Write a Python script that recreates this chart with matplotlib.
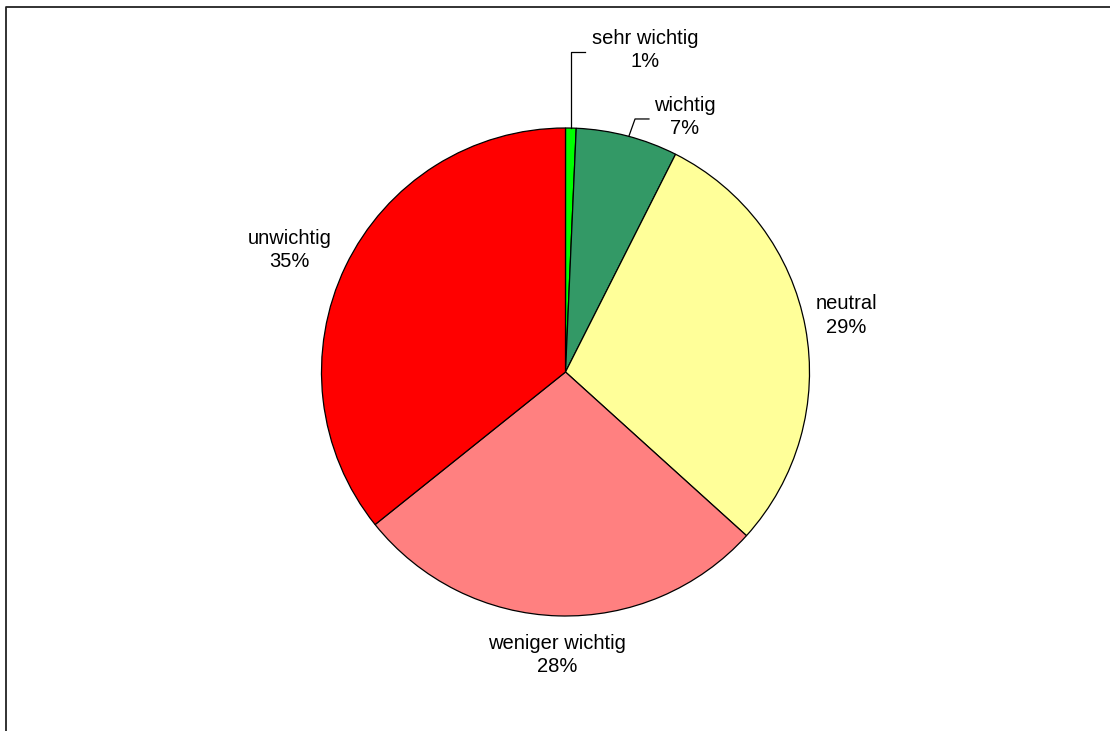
import matplotlib
matplotlib.use("Agg")
import matplotlib.pyplot as plt
from matplotlib.lines import Line2D

plt.rcParams['font.family'] = ['Liberation Sans', 'DejaVu Sans']

# data
categories = ["sehr wichtig", "wichtig", "neutral", "weniger wichtig", "unwichtig"]
values = [0.7, 6.75, 29.25, 27.55, 35.75]
pct_labels = ["1%", "7%", "29%", "28%", "35%"]
colors = ["#00FF00", "#339966", "#FFFF99", "#FF8080", "#FF0000"]

# label centres in pie units (radius = 1)
label_pos = [(0.326, 1.320), (0.488, 1.045), (1.152, 0.230), (-0.035, -1.160), (-1.131, 0.500)]

W, H = 1110, 731
fig = plt.figure(figsize=(W / 100, H / 100), dpi=100)

# frame: only left and top edges are inside the picture
fx, fy = 6 / W, 1 - 7 / H
fig.add_artist(Line2D([fx, fx, 1.01], [-0.01, fy, fy], transform=fig.transFigure,
                      color="#222222", linewidth=1.3))

cx, cy, r = 565.5, 372, 244
ax = fig.add_axes([(cx - r) / W, (H - cy - r) / H, 2 * r / W, 2 * r / H])
wedges, _ = ax.pie(values, colors=colors, startangle=90, counterclock=False, radius=1,
                   wedgeprops=dict(edgecolor="black", linewidth=0.9))
ax.set_xlim(-1, 1)
ax.set_ylim(-1, 1)
ax.axis("off")

for cat, pct, (lx, ly) in zip(categories, pct_labels, label_pos):
    ax.text(lx, ly, cat + "\n" + pct, ha="center", va="center", fontsize=14.5,
            linespacing=1.32, clip_on=False)

# leader lines for the two small slices
ax.plot([0.0225, 0.0225, 0.080], [1.0, 1.311, 1.311], color="black", lw=0.9, clip_on=False)
ax.plot([0.260, 0.285, 0.342], [0.967, 1.037, 1.037], color="black", lw=0.9, clip_on=False)

fig.savefig("out.png", dpi=100)
